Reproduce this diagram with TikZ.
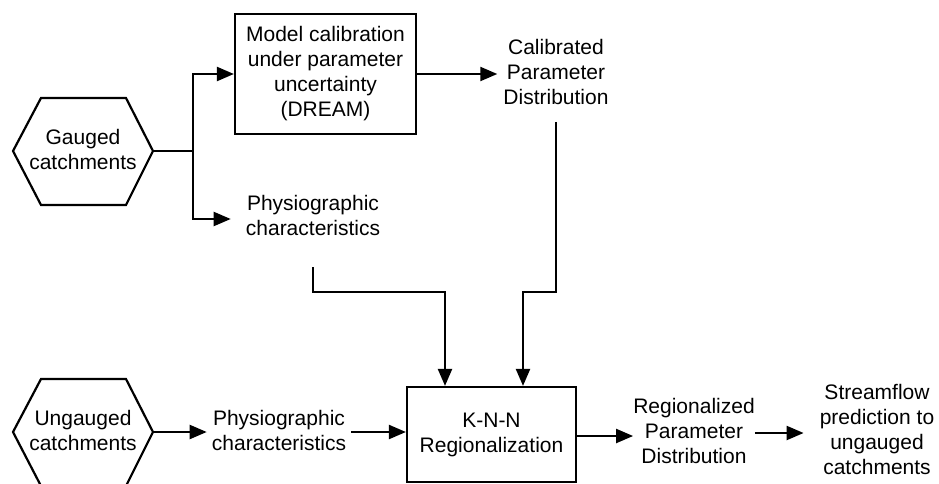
\documentclass[tikz,border=0pt]{standalone}
\usepackage{fontspec}
\setmainfont{Liberation Sans}
\usetikzlibrary{arrows.meta,calc}
\begin{document}
\begin{tikzpicture}[x=1pt,y=-1pt,
  every node/.style={font=\fontsize{21}{25}\selectfont, align=center},
  lbl/.style={inner xsep=5pt, inner ysep=2pt},
  boxnode/.style={draw, line width=2.2pt, inner sep=0pt},
  hexa/.style={draw, line width=2.2pt, line join=miter},
  arr/.style={line width=2.2pt, -{Triangle[length=17pt,width=14pt]}},
  ln/.style={line width=2.2pt}]
\useasboundingbox (0,0) rectangle (939,484);

% hexagons
\draw[hexa] (13,151) -- (41,98) -- (126,98) -- (153,151) -- (126,205) -- (41,205) -- cycle;
\coordinate (gR) at (153,151);
\node (gauged) at (83,149) {Gauged\\catchments};

\draw[hexa] (13,432) -- (41,379) -- (126,379) -- (153,432) -- (126,486) -- (41,486) -- cycle;
\coordinate (uR) at (153,432);
\node (ungauged) at (83,430) {Ungauged\\catchments};

% boxes
\node[boxnode, minimum width=181pt, minimum height=120pt] (model) at (325.5,74) {Model calibration\\under parameter\\uncertainty\\(DREAM)};
\node[boxnode, minimum width=169pt, minimum height=95pt] (knn) at (491.5,434.5) {K-N-N\\Regionalization};

% text labels
\node[lbl, inner xsep=6pt] (calib) at (556,72) {Calibrated\\Parameter\\Distribution};
\node[lbl, inner xsep=15pt] (phys1) at (313,215) {Physiographic\\characteristics};
\node[lbl] (phys2) at (279,430) {Physiographic\\characteristics};
\node[lbl, inner xsep=0pt] (regional) at (694,431) {Regionalized\\Parameter\\Distribution};
\node[lbl, inner xsep=16pt] (stream) at (877,429.5) {Streamflow\\prediction to\\ungauged\\catchments};

% connectors
\coordinate (split) at (193,151);
\draw[ln] (gR) -- (split);
\draw[arr] (split) |- (model.west);
\draw[arr] (split) |- ([yshift=-4pt]phys1.west);
\draw[arr] (model.east) -- (model.east -| calib.west);
\draw[arr] ($(calib.center)+(0,50)$) -- ($(calib.center)+(0,220)$) -| ([xshift=31.5pt]knn.north);
\draw[arr] ($(phys1.center)+(0,52)$) -- ($(phys1.center)+(0,77)$) -| ([xshift=-46.5pt]knn.north);
\draw[arr] (uR) -- (uR -| phys2.west);
\draw[arr] (phys2.east |- uR) -- (uR -| knn.west);
\draw[arr] ([yshift=-1.5pt]knn.east) -- ([yshift=-1.5pt]knn.east -| regional.west);
\draw[arr] ([yshift=-2pt]regional.east) -- ([yshift=-2pt]regional.east -| stream.west);
\end{tikzpicture}
\end{document}
